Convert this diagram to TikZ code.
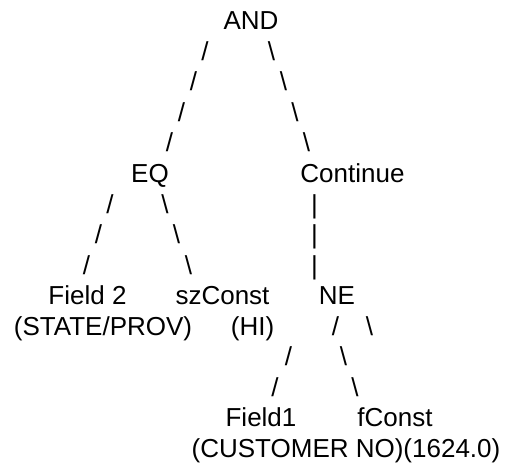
\documentclass[tikz,border=0pt]{standalone}
\usepackage{fontspec}
\setmainfont{Liberation Sans}
\begin{document}
\begin{tikzpicture}[x=1pt,y=-1pt,
  lbl/.style={inner sep=0pt, anchor=base, font=\fontsize{26}{30}\selectfont, text=black},
  lnk/.style={lbl}]
\useasboundingbox (0,0) rectangle (508,465);
% row baselines: 30 + 30.5 i
\node[lbl] (and) at (251,30) {AND};
\node[lnk] (a1l) at (205,60.5) {/};
\node[lnk] (a1r) at (271.5,60.5) {\textbackslash};
\node[lnk] (a2l) at (193.5,91) {/};
\node[lnk] (a2r) at (283.5,91) {\textbackslash};
\node[lnk] (a3l) at (181.5,121.5) {/};
\node[lnk] (a3r) at (295,121.5) {\textbackslash};
\node[lnk] (a4l) at (169.5,152) {/};
\node[lnk] (a4r) at (306.5,152) {\textbackslash};
\node[lbl] (eq) at (150,182.5) {EQ};
\node[lbl] (cont) at (352.5,182.5) {Continue};
\node[lnk] (e1l) at (110,213) {/};
\node[lnk] (e1r) at (165,213) {\textbackslash};
\node[lnk] (c1) at (314.5,213) {\textbar};
\node[lnk] (e2l) at (98.5,243.5) {/};
\node[lnk] (e2r) at (176.5,243.5) {\textbackslash};
\node[lnk] (c2) at (314.5,243.5) {\textbar};
\node[lnk] (e3l) at (86.5,274) {/};
\node[lnk] (e3r) at (188.5,274) {\textbackslash};
\node[lnk] (c3) at (314.5,274) {\textbar};
\node[lbl] (f2) at (87.5,304.5) {Field 2};
\node[lbl] (sz) at (222.5,304.5) {szConst};
\node[lbl] (ne) at (337,304.5) {NE};
\node[lbl] (f2b) at (103,335) {(STATE/PROV)};
\node[lbl] (szb) at (252.5,335) {(HI)};
\node[lnk] (n1l) at (335.5,335) {/};
\node[lnk] (n1r) at (369.5,335) {\textbackslash};
\node[lnk] (n2l) at (288.5,365.5) {/};
\node[lnk] (n2r) at (343.5,365.5) {\textbackslash};
\node[lnk] (n3l) at (275,396) {/};
\node[lnk] (n3r) at (355,396) {\textbackslash};
\node[lbl] (f1) at (261,426.5) {Field1};
\node[lbl] (fc) at (395,426.5) {fConst};
\node[lbl] (bot) at (346,457) {(CUSTOMER NO)(1624.0)};
\end{tikzpicture}
\end{document}
